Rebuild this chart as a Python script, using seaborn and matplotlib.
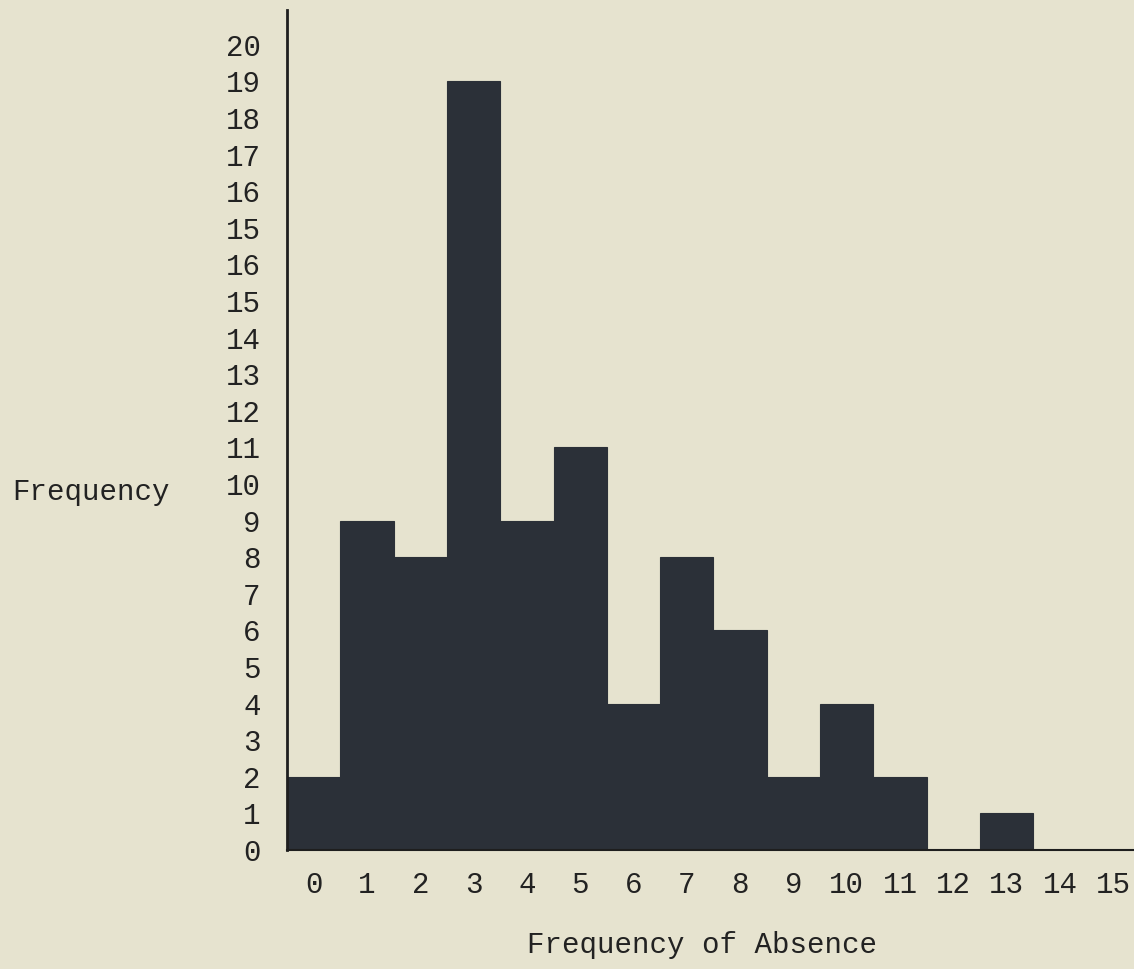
import numpy as np
import pandas as pd
import seaborn as sns
import matplotlib.pyplot as plt

# values
absences = list(range(16))
x_labels = [str(a) for a in absences]
# the typed y scale repeats "15, 16" so rows are counted by tick position
y_labels = ["0", "1", "2", "3", "4", "5", "6", "7", "8", "9", "10", "11",
            "12", "13", "14", "15", "16", "15", "16", "17", "18", "19", "20"]
freq_rows = [2, 9, 8, 21, 9, 11, 4, 8, 6, 2, 4, 2, 0, 1, 0, 0]

df = pd.DataFrame({"Absence": x_labels, "Rows": freq_rows})

paper = "#e6e3cf"
ink = "#2b3038"

sns.set_theme(style="white")
plt.rcParams['font.family'] = ['Liberation Mono', 'DejaVu Sans Mono']

fig = plt.figure(figsize=(11.34, 9.69), dpi=100, facecolor=paper)
ax = fig.add_axes([0.2531, 0.1228, 0.7469, 0.8669])
ax.set_facecolor(paper)

sns.barplot(data=df, x="Absence", y="Rows", order=x_labels, width=1.0,
            color=ink, saturation=1, edgecolor=ink, linewidth=0.8, ax=ax)

ax.set_xlim(-0.5, 15.39)
ax.set_ylim(0, 22.95)
ax.set_yticks(np.arange(len(y_labels)))
ax.set_yticklabels(y_labels)
ax.set_xticks(absences)
ax.set_xticklabels(x_labels)
ax.tick_params(axis="both", length=0, labelsize=21, colors="#222222")
ax.tick_params(axis="y", pad=19)
ax.tick_params(axis="x", pad=15)

for side in ["top", "right"]:
    ax.spines[side].set_visible(False)
ax.spines["left"].set_linewidth(2.0)
ax.spines["left"].set_color("#1e1e1e")
ax.spines["bottom"].set_linewidth(1.5)
ax.spines["bottom"].set_color("#1e1e1e")

ax.set_xlabel("Frequency of Absence", fontsize=21, color="#222222", va="center")
ax.xaxis.set_label_coords(0.49, -0.113)
ax.set_ylabel("Frequency", fontsize=21, color="#222222", rotation=0,
              ha="left", va="center")
ax.yaxis.set_label_coords(-0.3247, 0.426)

fig.savefig("out.png", dpi=100, facecolor=paper)
